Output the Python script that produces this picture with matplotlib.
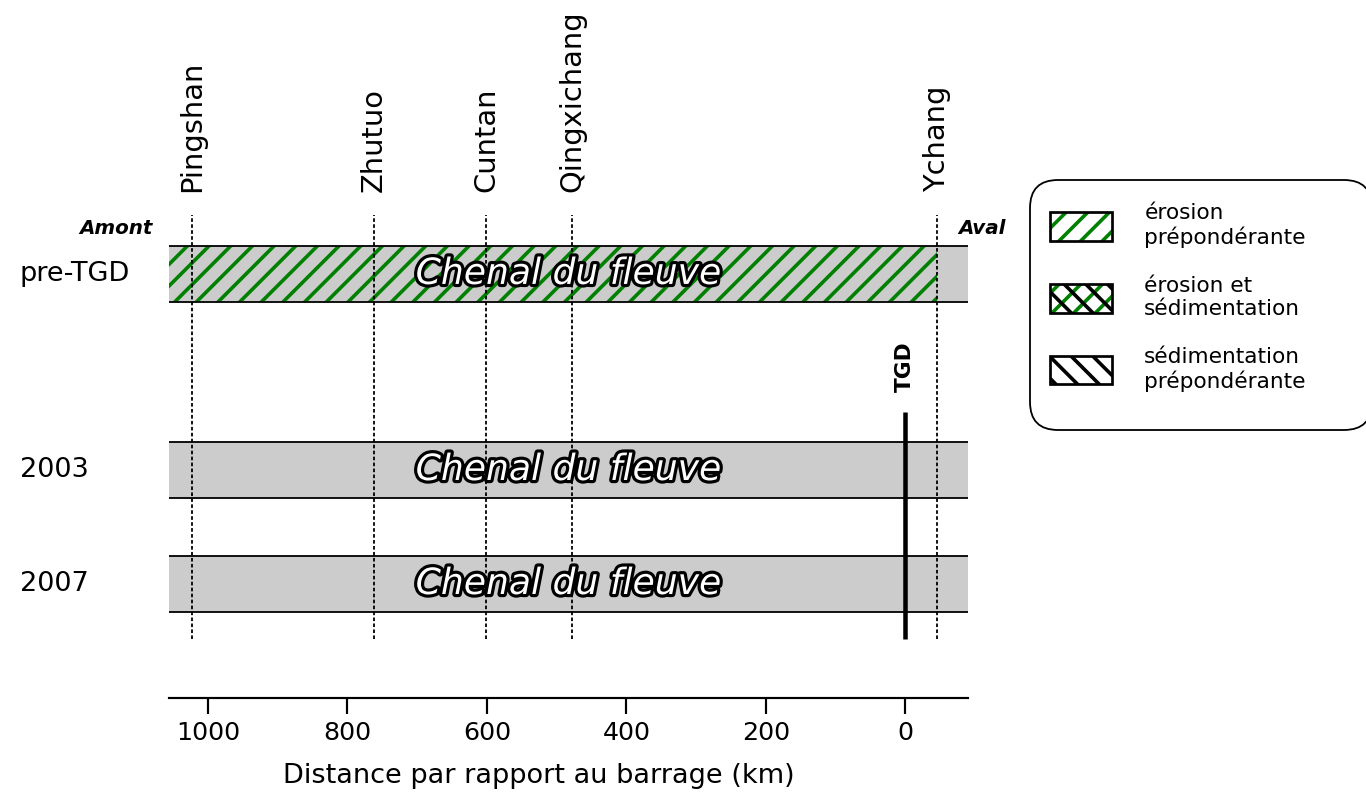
import numpy as np
import matplotlib
matplotlib.use('Agg')
import matplotlib.pyplot as plt
import matplotlib.patheffects as pe
from matplotlib.patches import Patch, FancyBboxPatch
from matplotlib.legend_handler import HandlerTuple
from matplotlib.transforms import IdentityTransform, blended_transform_factory

# donnees
stations = ['Pingshan', 'Zhutuo', 'Cuntan', 'Qingxichang', 'Ychang']
station_km = [1023, 762, 601, 478, -45]
periodes = ['pre-TGD', '2003', '2007']
# zones d'erosion preponderante (debut, fin) en km, par periode
erosion = {'pre-TGD': [(1056, -45)], '2003': [], '2007': []}
barrage_km = 0
ticks_km = [1000, 800, 600, 400, 200, 0]
xmin, xmax = 1056, -90

legende = ['érosion\nprépondérante', 'érosion et\nsédimentation', 'sédimentation\nprépondérante']

# mise en page
row_y = {'pre-TGD': 3.72, '2003': 2.0, '2007': 1.0}
band_h = 0.49
ytop = 4.237
ybas = 0.518
tgd_top = 2.509

plt.rcParams['hatch.linewidth'] = 2.0
DPI = 130
fig = plt.figure(figsize=(1366 / DPI, 798 / DPI), dpi=DPI)
ax = fig.add_axes([169 / 1366, 100 / 798, 799 / 1366, 483 / 798])
ax.set_xlim(xmin, xmax)
ax.set_ylim(0, ytop)

for p in periodes:
    y = row_y[p]
    ax.axhspan(y - band_h / 2, y + band_h / 2, facecolor='0.8', edgecolor='none', zorder=1)
    ax.axhline(y - band_h / 2, color='black', lw=1.0, zorder=3)
    ax.axhline(y + band_h / 2, color='black', lw=1.0, zorder=3)
    for (a, b) in erosion[p]:
        ax.barh(y, b - a, left=a, height=band_h, facecolor='none', edgecolor='green',
                hatch='//', lw=0, zorder=2)
    ax.text(0.5, y, 'Chenal du fleuve', transform=blended_transform_factory(ax.transAxes, ax.transData),
            ha='center', va='center', fontsize=20, style='italic', color='white', zorder=5,
            path_effects=[pe.withStroke(linewidth=3.5, foreground='black')])
    ax.text(20 / 1366, y, p, transform=blended_transform_factory(fig.transFigure, ax.transData),
            ha='left', va='center', fontsize=15)

ax.vlines(station_km, ybas, ytop, colors='black', linestyles=(0, (2, 1.3)), lw=1.0, zorder=4)
for s, km in zip(stations, station_km):
    ax.text(km, 1.0476, s, transform=blended_transform_factory(ax.transData, ax.transAxes),
            rotation=90, ha='center', va='bottom', fontsize=16)

ax.vlines(barrage_km, ybas, tgd_top, colors='black', lw=2.5, zorder=6)
ax.annotate('TGD', xy=(barrage_km, tgd_top), xytext=(0, 11), textcoords='offset points',
            rotation=90, ha='center', va='bottom', fontsize=12, fontweight='bold')

ax.text(-0.02, 0.973, 'Amont', transform=ax.transAxes, ha='right', va='center',
        fontsize=11, fontweight='bold', style='italic')
ax.text(0.9875, 0.973, 'Aval', transform=ax.transAxes, ha='left', va='center',
        fontsize=11, fontweight='bold', style='italic')

for sp in ['left', 'right', 'top']:
    ax.spines[sp].set_visible(False)
ax.spines['bottom'].set_linewidth(1.2)
ax.set_yticks([])
ax.set_xticks(ticks_km)
ax.tick_params(axis='x', labelsize=14, length=9, width=1.2, direction='out')
ax.set_xlabel('Distance par rapport au barrage (km)', fontsize=15)
ax.xaxis.set_label_coords(0.463, -0.135)

# legende
cadre = FancyBboxPatch((1030, 368), 342, 250, boxstyle='round,pad=0,rounding_size=28',
                       transform=IdentityTransform(), facecolor='white', edgecolor='black',
                       lw=1.0, zorder=0)
fig.patches.append(cadre)
bord = dict(facecolor='none', edgecolor='black', lw=1.5)
h1 = (Patch(facecolor='white', edgecolor='green', hatch='//', lw=0), Patch(**bord))
h2 = (Patch(facecolor='white', edgecolor='green', hatch='//', lw=0),
      Patch(facecolor='none', edgecolor='black', hatch='\\\\', lw=0), Patch(**bord))
h3 = (Patch(facecolor='white', edgecolor='black', hatch='\\\\', lw=0), Patch(**bord))
fig.legend([h1, h2, h3], legende, handler_map={tuple: HandlerTuple(ndivide=1, pad=0)},
           loc='upper left', bbox_to_anchor=(1050 / 1366, 1 - 203 / 798), frameon=False,
           fontsize=12, handlelength=2.85, handleheight=1.65, handletextpad=1.5,
           labelspacing=1.28, borderpad=0, borderaxespad=0)

fig.savefig('out.png', dpi=DPI)
